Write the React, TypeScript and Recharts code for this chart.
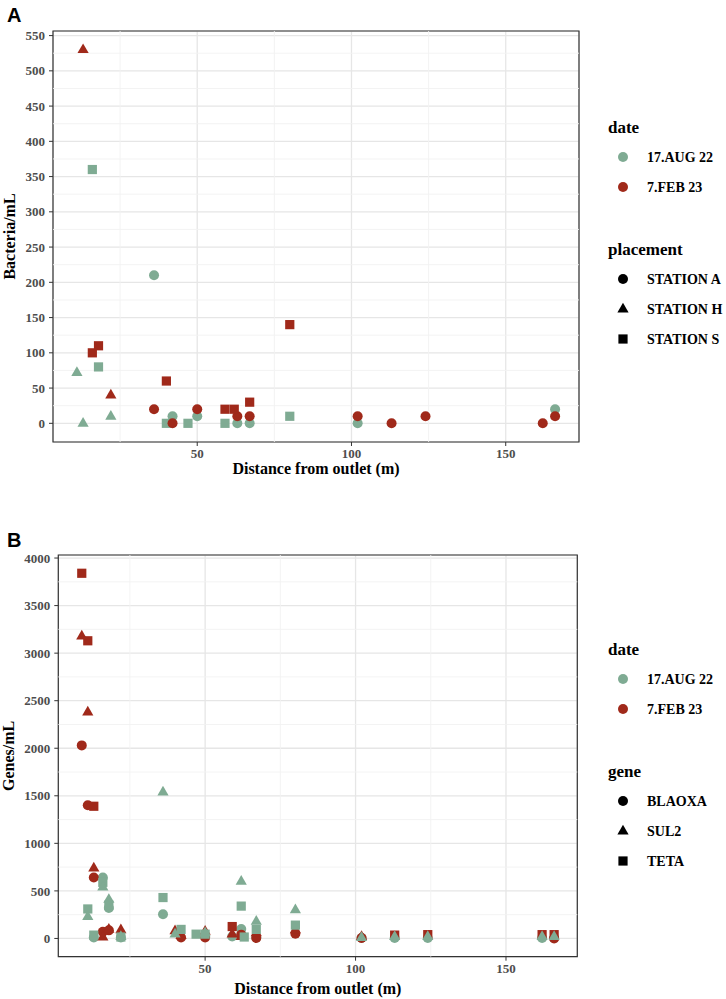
import React from 'react'
import { ScatterChart, Scatter, XAxis, YAxis, CartesianGrid, ReferenceLine, ReferenceArea, Label } from 'recharts'

// colours of the two sampling dates
const AUG = '#7FAB93'
const FEB = '#A0291A'

const SERIF = '"Liberation Serif", "DejaVu Serif", serif'

// ---------- panel A : bacteria ----------
const xTicks = [50, 100, 150]
const xMinor = [25, 75, 125]
const bactTicks = [0, 50, 100, 150, 200, 250, 300, 350, 400, 450, 500, 550]
const bactMinor = [25, 75, 125, 175, 225, 275, 325, 375, 425, 475, 525]

const augStationAx = [36, 42, 50, 63, 67, 102, 166]
const augStationAy = [210, 10, 10, 0, 0, 0, 20]
const augStationHx = [11, 13, 22]
const augStationHy = [72, 0, 10]
const augStationSx = [16, 18, 40, 47, 59, 80]
const augStationSy = [360, 80, 0, 0, 0, 10]

const febStationAx = [36, 42, 50, 63, 67, 102, 113, 124, 162, 166]
const febStationAy = [20, 0, 20, 10, 10, 10, 0, 10, 0, 10]
const febStationHx = [13, 22]
const febStationHy = [530, 40]
const febStationSx = [16, 18, 40, 59, 62, 67, 80]
const febStationSy = [100, 110, 60, 20, 20, 30, 140]

// ---------- panel B : genes ----------
const geneTicks = [0, 500, 1000, 1500, 2000, 2500, 3000, 3500, 4000]
const geneMinor = [250, 750, 1250, 1750, 2250, 2750, 3250, 3750]

const augBlaoxaX = [13, 16, 18, 22, 36, 59, 62, 67, 102, 113, 124, 162, 166]
const augBlaoxaY = [10, 640, 320, 10, 255, 20, 100, 10, 5, 5, 5, 5, 5]
const augSul2X = [11, 16, 18, 22, 36, 40, 50, 62, 67, 80, 102, 113, 124, 162, 166]
const augSul2Y = [230, 540, 410, 20, 1540, 45, 60, 600, 180, 300, 10, 20, 20, 20, 20]
const augTetaX = [11, 13, 16, 18, 22, 36, 42, 47, 50, 62, 63, 67, 80]
const augTetaY = [310, 35, 590, 350, 15, 430, 95, 45, 45, 340, 15, 95, 140]

const febBlaoxaX = [9, 11, 13, 16, 18, 42, 50, 62, 67, 80, 102, 166]
const febBlaoxaY = [2030, 1400, 640, 70, 85, 10, 10, 40, 5, 50, 5, 0]
const febSul2X = [9, 11, 13, 16, 18, 22, 40, 42, 50, 59, 62, 67, 80, 102]
const febSul2Y = [3180, 2380, 740, 15, 95, 90, 80, 30, 75, 45, 20, 60, 90, 20]
const febTetaX = [9, 11, 13, 59, 113, 124, 162, 166]
const febTetaY = [3840, 3130, 1390, 125, 35, 40, 40, 40]

const pts = (xs: number[], ys: number[]) => xs.map((d, i) => ({ d, v: ys[i] }))

type Kind = 'circle' | 'triangle' | 'square'

const Glyph = ({ kind, color, cx, cy }: { kind: Kind; color: string; cx: number; cy: number }) => {
  if (kind === 'circle') return <circle cx={cx} cy={cy} r={5} fill={color} />
  if (kind === 'square') return <rect x={cx - 4.6} y={cy - 4.6} width={9.2} height={9.2} fill={color} />
  return <polygon points={`${cx},${cy - 6.3} ${cx - 5.6},${cy + 3.4} ${cx + 5.6},${cy + 3.4}`} fill={color} />
}

const shapeOf = (kind: Kind, color: string) => (p: any) => <Glyph kind={kind} color={color} cx={p.cx} cy={p.cy} />

const tickStyle = { fontFamily: SERIF, fontSize: 13, fontWeight: 700, fill: '#4D4D4D' }

const xTitle = (dy: number) => (props: any) => {
  const vb = props.viewBox
  return (
    <text x={vb.x + vb.width / 2} y={vb.y + dy} textAnchor="middle"
      style={{ fontFamily: SERIF, fontSize: 16, fontWeight: 700, fill: '#000' }}>
      Distance from outlet (m)
    </text>
  )
}

const yTitle = (text: string, left: number) => (props: any) => {
  const vb = props.viewBox
  const cy = vb.y + vb.height / 2
  return (
    <text x={left} y={cy} transform={`rotate(-90, ${left}, ${cy})`} textAnchor="middle"
      style={{ fontFamily: SERIF, fontSize: 16, fontWeight: 700, fill: '#000' }}>
      {text}
    </text>
  )
}

type Series = { name: string; kind: Kind; color: string; xs: number[]; ys: number[] }

const Panel = ({ width, height, margin, xDomain, yDomain, yTicks, yMinor, yLabel, series, titleDy }: any) => (
  <ScatterChart width={width} height={height} margin={margin}>
    {xMinor.map((x) => (
      <ReferenceLine key={'vx' + x} x={x} stroke="#F2F2F2" strokeWidth={0.9} />
    ))}
    {yMinor.map((y: number) => (
      <ReferenceLine key={'hy' + y} y={y} stroke="#F2F2F2" strokeWidth={0.9} />
    ))}
    <CartesianGrid stroke="#E6E6E6" strokeWidth={1.3} />
    <XAxis type="number" dataKey="d" domain={xDomain} ticks={xTicks} allowDataOverflow
      axisLine={false} tickLine={{ stroke: '#333' }} tickSize={4} tickMargin={3} tick={tickStyle} height={30}>
      <Label content={xTitle(titleDy)} />
    </XAxis>
    <YAxis type="number" dataKey="v" domain={yDomain} ticks={yTicks} allowDataOverflow
      axisLine={false} tickLine={{ stroke: '#333' }} tickSize={4} tickMargin={4} tick={tickStyle} width={50}>
      <Label content={yTitle(yLabel, 14.5)} />
    </YAxis>
    <ReferenceArea x1={xDomain[0]} x2={xDomain[1]} y1={yDomain[0]} y2={yDomain[1]}
      fill="none" stroke="#333" strokeWidth={1.2} />
    {series.map((s: Series) => (
      <Scatter key={s.name} name={s.name} data={pts(s.xs, s.ys)} shape={shapeOf(s.kind, s.color)}
        isAnimationActive={false} />
    ))}
  </ScatterChart>
)

const seriesA: Series[] = [
  { name: 'aug-A', kind: 'circle', color: AUG, xs: augStationAx, ys: augStationAy },
  { name: 'aug-H', kind: 'triangle', color: AUG, xs: augStationHx, ys: augStationHy },
  { name: 'aug-S', kind: 'square', color: AUG, xs: augStationSx, ys: augStationSy },
  { name: 'feb-A', kind: 'circle', color: FEB, xs: febStationAx, ys: febStationAy },
  { name: 'feb-H', kind: 'triangle', color: FEB, xs: febStationHx, ys: febStationHy },
  { name: 'feb-S', kind: 'square', color: FEB, xs: febStationSx, ys: febStationSy },
]

const seriesB: Series[] = [
  { name: 'aug-bla', kind: 'circle', color: AUG, xs: augBlaoxaX, ys: augBlaoxaY },
  { name: 'feb-bla', kind: 'circle', color: FEB, xs: febBlaoxaX, ys: febBlaoxaY },
  { name: 'feb-sul', kind: 'triangle', color: FEB, xs: febSul2X, ys: febSul2Y },
  { name: 'feb-teta', kind: 'square', color: FEB, xs: febTetaX, ys: febTetaY },
  { name: 'aug-teta', kind: 'square', color: AUG, xs: augTetaX, ys: augTetaY },
  { name: 'aug-sul', kind: 'triangle', color: AUG, xs: augSul2X, ys: augSul2Y },
]

const LegendBlock = ({ top, title, shapeTitle, shapes }: { top: number; title: string; shapeTitle: string; shapes: string[] }) => {
  const kinds: Kind[] = ['circle', 'triangle', 'square']
  const titleStyle = { fontFamily: SERIF, fontSize: 17, fontWeight: 700, fill: '#000' }
  const itemStyle = { fontFamily: SERIF, fontSize: 14, fontWeight: 700, fill: '#000' }
  return (
    <g>
      <text x={608} y={top + 6} style={titleStyle}>{title}</text>
      <Glyph kind="circle" color={AUG} cx={623} cy={top + 30} />
      <text x={647} y={top + 35} style={itemStyle}>17.AUG 22</text>
      <Glyph kind="circle" color={FEB} cx={623} cy={top + 60} />
      <text x={647} y={top + 65} style={itemStyle}>7.FEB 23</text>
      <text x={608} y={top + 128} style={titleStyle}>{shapeTitle}</text>
      {shapes.map((s, i) => (
        <g key={s}>
          <Glyph kind={kinds[i]} color="#000" cx={623} cy={top + 152 + i * 30} />
          <text x={647} y={top + 157 + i * 30} style={itemStyle}>{s}</text>
        </g>
      ))}
    </g>
  )
}

export default function App() {
  return (
    <div style={{ position: 'absolute', left: 0, top: 0, width: 726, height: 999, background: '#fff' }}>
      <div style={{ position: 'absolute', left: 0, top: 0 }}>
        <Panel width={726} height={480} margin={{ top: 31, right: 147, bottom: 8, left: 3 }}
          xDomain={[3.25, 173.75]} yDomain={[-26.5, 556.5]} yTicks={bactTicks} yMinor={bactMinor}
          yLabel="Bacteria/mL" series={seriesA} titleDy={32} />
      </div>
      <div style={{ position: 'absolute', left: 0, top: 520 }}>
        <Panel width={726} height={479} margin={{ top: 35, right: 148.7, bottom: 12.3, left: 8.3 }}
          xDomain={[1.2, 173.7]} yDomain={[-192, 4032]} yTicks={geneTicks} yMinor={geneMinor}
          yLabel="Genes/mL" series={seriesB} titleDy={37} />
      </div>
      <svg width={726} height={999} style={{ position: 'absolute', left: 0, top: 0, pointerEvents: 'none' }}>
        <text x={7} y={22} style={{ fontFamily: '"Liberation Sans", Arial, sans-serif', fontSize: 20, fontWeight: 700 }}>A</text>
        <text x={7} y={547} style={{ fontFamily: '"Liberation Sans", Arial, sans-serif', fontSize: 20, fontWeight: 700 }}>B</text>
        <LegendBlock top={127} title="date" shapeTitle="placement" shapes={['STATION A', 'STATION H', 'STATION S']} />
        <LegendBlock top={649} title="date" shapeTitle="gene" shapes={['BLAOXA', 'SUL2', 'TETA']} />
      </svg>
    </div>
  )
}
